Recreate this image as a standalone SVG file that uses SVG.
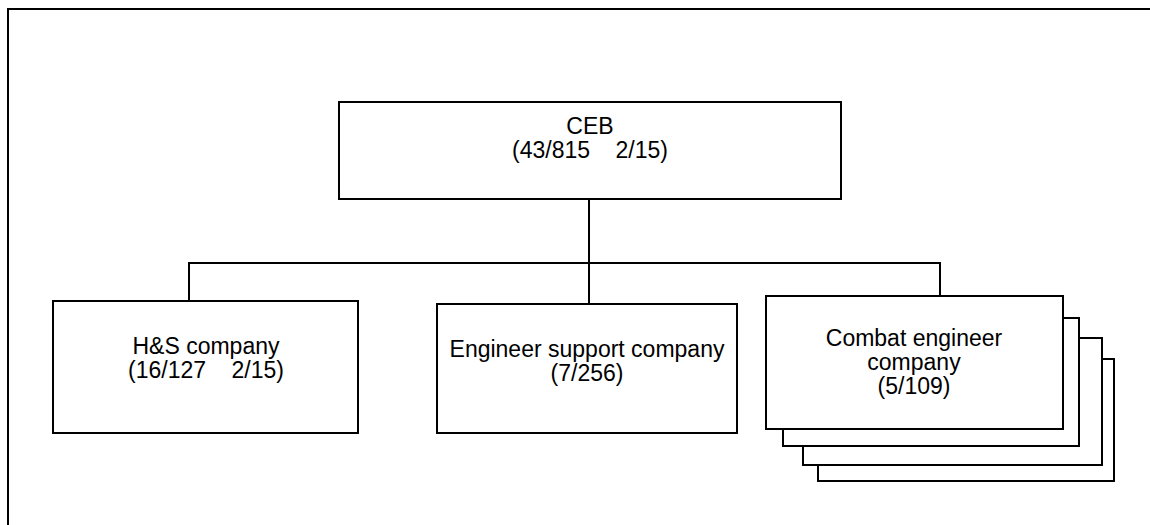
<svg xmlns="http://www.w3.org/2000/svg" width="1150" height="525" viewBox="0 0 1150 525">
<style>
.box{fill:#fff;stroke:#000;stroke-width:2}
.ln{fill:none;stroke:#000;stroke-width:2}
text{font-family:"Liberation Sans",Arial,sans-serif;font-size:23px;fill:#000;text-anchor:middle;white-space:pre}
</style>
<rect width="1150" height="525" fill="#fff"/>
<path class="ln" d="M8,525 V9 H1150" stroke-width="3"/>
<g id="connectors">
<path class="ln" d="M589,199 V263"/>
<path class="ln" d="M189,301 V263 H940 V296"/>
<path class="ln" d="M589,263 V304"/>
</g>
<g id="ceb">
<rect class="box" x="339" y="102" width="502" height="97"/>
<text x="590" y="134" xml:space="preserve">CEB</text>
<text x="590" y="158" xml:space="preserve">(43/815    2/15)</text>
</g>
<g id="hs">
<rect class="box" x="53" y="301" width="305" height="132"/>
<text x="206" y="354" xml:space="preserve">H&amp;S company</text>
<text x="206" y="378" xml:space="preserve">(16/127    2/15)</text>
</g>
<g id="es">
<rect class="box" x="437" y="304" width="300" height="129"/>
<text x="587" y="357" xml:space="preserve">Engineer support company</text>
<text x="587" y="381" xml:space="preserve">(7/256)</text>
</g>
<g id="combat">
<rect class="box" x="818" y="359" width="296" height="122"/>
<rect class="box" x="803" y="338" width="299" height="127"/>
<rect class="box" x="783" y="318" width="296" height="128"/>
<rect class="box" x="766" y="296" width="297" height="133"/>
<text x="914" y="346" xml:space="preserve">Combat engineer</text>
<text x="914" y="370" xml:space="preserve">company</text>
<text x="914" y="394" xml:space="preserve">(5/109)</text>
</g>
</svg>
